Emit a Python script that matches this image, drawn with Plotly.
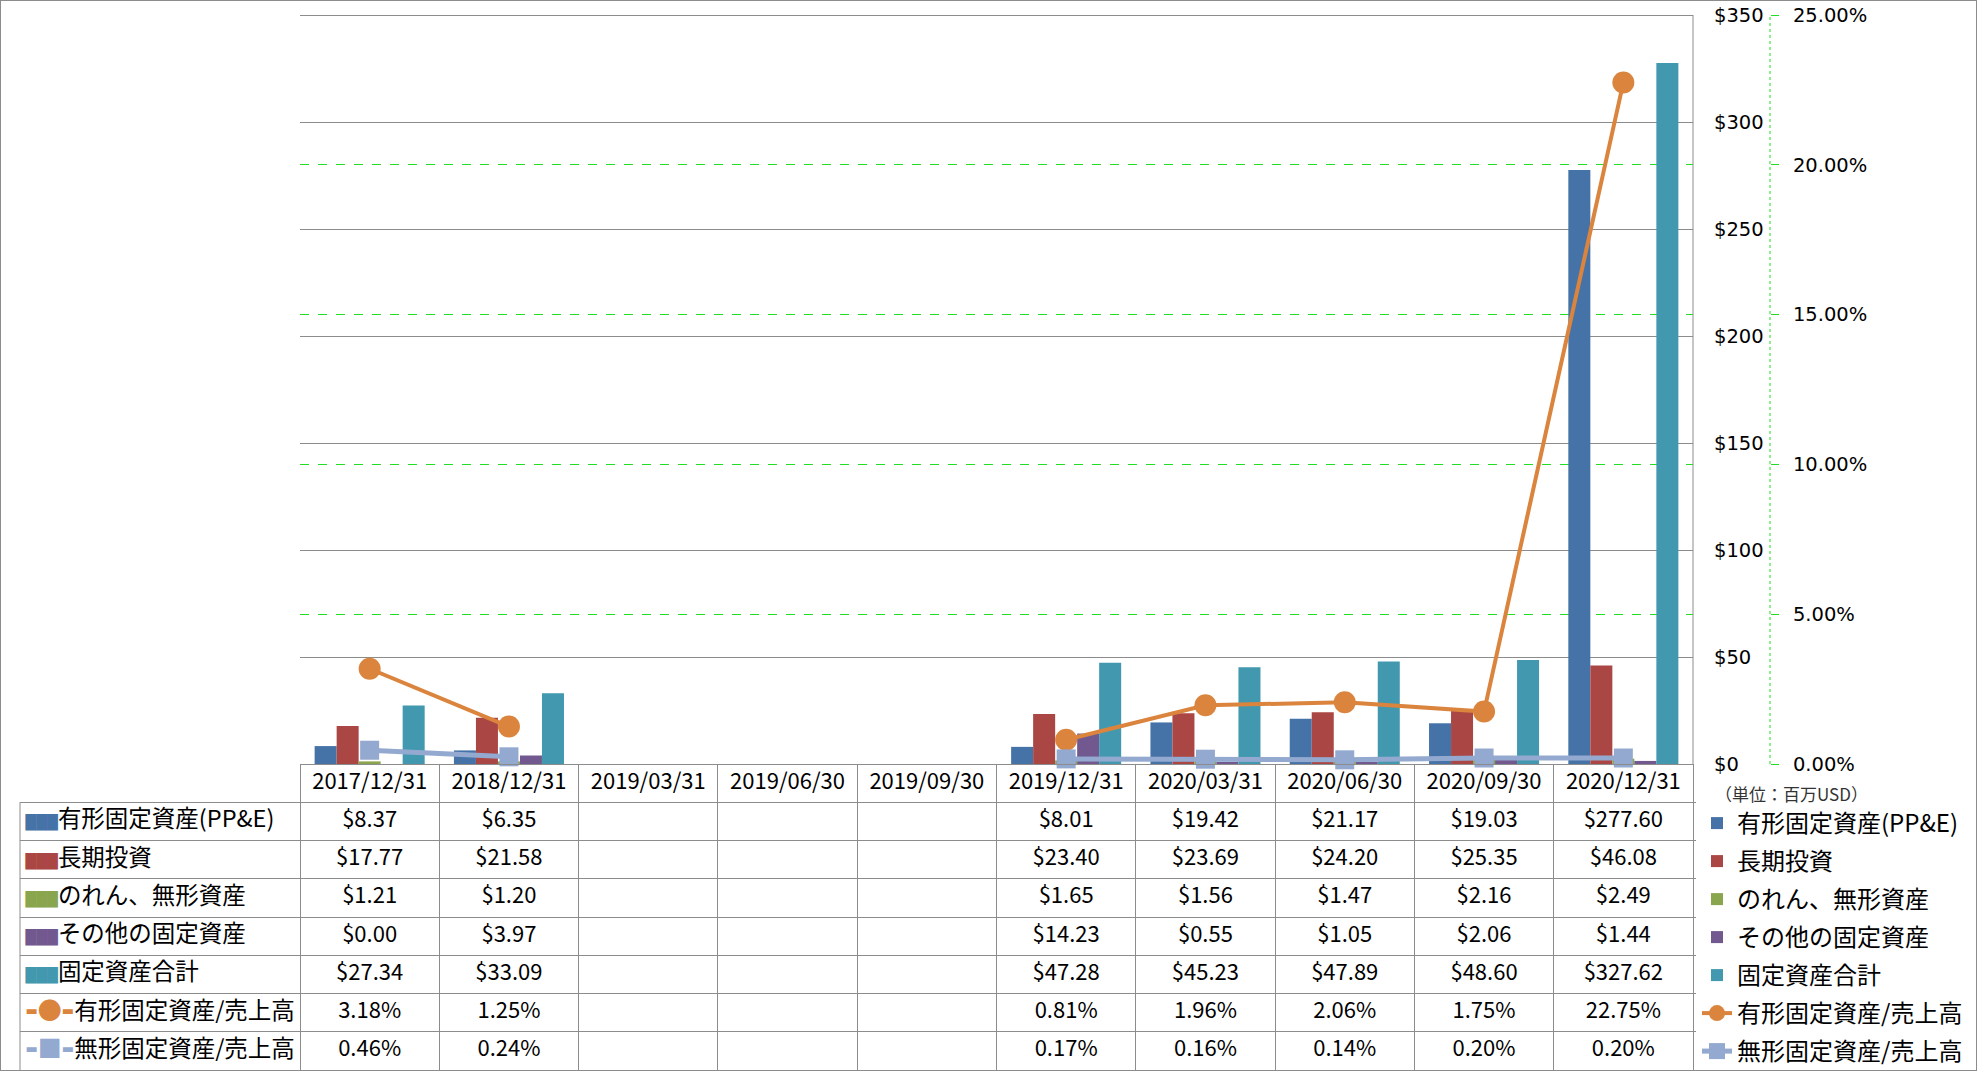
import plotly.graph_objects as go

# ---------------- data ----------------
dates = ["2017/12/31", "2018/12/31", "2019/03/31", "2019/06/30", "2019/09/30",
         "2019/12/31", "2020/03/31", "2020/06/30", "2020/09/30", "2020/12/31"]

ppe = [8.37, 6.35, None, None, None, 8.01, 19.42, 21.17, 19.03, 277.60]
long_inv = [17.77, 21.58, None, None, None, 23.40, 23.69, 24.20, 25.35, 46.08]
goodwill = [1.21, 1.20, None, None, None, 1.65, 1.56, 1.47, 2.16, 2.49]
other_fixed = [0.00, 3.97, None, None, None, 14.23, 0.55, 1.05, 2.06, 1.44]
total_fixed = [27.34, 33.09, None, None, None, 47.28, 45.23, 47.89, 48.60, 327.62]
ppe_to_sales = [3.18, 1.25, None, None, None, 0.81, 1.96, 2.06, 1.75, 22.75]
intang_to_sales = [0.46, 0.24, None, None, None, 0.17, 0.16, 0.14, 0.20, 0.20]

bar_names = ["有形固定資産(PP&E)", "長期投資", "のれん、無形資産", "その他の固定資産", "固定資産合計"]
line_names = ["有形固定資産/売上高", "無形固定資産/売上高"]

usd_ticks = [0, 50, 100, 150, 200, 250, 300, 350]
pct_ticks = [0, 5, 10, 15, 20, 25]
pct_grid = [5, 10, 15, 20]
usd_max = 350
pct_max = 25
unit_label = "（単位：百万USD）"

# ---------------- style ----------------
bar_colors = ["#4572A7", "#AA4643", "#89A54E", "#71588F", "#4198AF"]
line_colors = ["#DB843D", "#93A9CF"]
GRID = "#8c8c8c"
GREEN = "#22DD22"
CJK = "Noto Sans CJK JP"
AXF = "DejaVu Sans"

W, H = 1977, 1071
def fx(p):
    return p / W
def fy(p):
    return 1 - p / H

PL, PR, PT, PB = 300, 1693, 15, 764
TL, TB = 20, 1070
EXT = 3  # px of headroom so the end grid lines are not clipped
col_w = (PR - PL) / len(dates)
x2_min = -0.5 - (PL - TL) / col_w
x2_max = len(dates) - 0.5 + EXT / col_w
px_per_usd = (PB - PT) / usd_max
y_top = usd_max + EXT / px_per_usd
y2_top = pct_max * y_top / usd_max

fig = go.Figure()

bar_series = [ppe, long_inv, goodwill, other_fixed, total_fixed]
for i, (nm, vals) in enumerate(zip(bar_names, bar_series)):
    fig.add_trace(go.Bar(
        x=dates, y=vals, name=nm, marker=dict(color=bar_colors[i], line=dict(width=0)),
        xaxis="x", yaxis="y", legendgroup=f"g{i}", hoverinfo="skip"))

line_series = [ppe_to_sales, intang_to_sales]
symbols = ["circle", "square"]
msizes = [22, 19]
lwidths = [4, 5]
for j, (nm, vals) in enumerate(zip(line_names, line_series)):
    fig.add_trace(go.Scatter(
        x=dates, y=vals, name=nm, mode="lines+markers", connectgaps=False,
        line=dict(color=line_colors[j], width=lwidths[j]),
        marker=dict(symbol=symbols[j], size=msizes[j], color=line_colors[j]),
        xaxis="x", yaxis="y2", cliponaxis=False, legendgroup=f"l{j}", hoverinfo="skip"))

# ---------------- data table (text traces on their own subplot) ----------------
idx = list(range(len(dates)))
fig.add_trace(go.Scatter(
    x=idx, y=[0] * len(dates), text=dates, mode="text", textposition="middle center",
    textfont=dict(family=CJK, size=22, color="black"),
    xaxis="x2", yaxis="y3", showlegend=False, hoverinfo="skip"))

def fmt_usd(v):
    return "" if v is None else f"${v:.2f}"
def fmt_pct(v):
    return "" if v is None else f"{v:.2f}%"

rows = [(v, fmt_usd) for v in bar_series] + [(v, fmt_pct) for v in line_series]
for r, (vals, f) in enumerate(rows):
    fig.add_trace(go.Scatter(
        x=idx, y=[r + 1] * len(dates), text=[f(v) for v in vals], mode="text",
        textposition="middle center", textfont=dict(family=CJK, size=22, color="black"),
        xaxis="x2", yaxis="y3", showlegend=False, hoverinfo="skip"))

def bar_key(c):
    return f"<span style='color:{c};font-family:DejaVu Sans;font-size:14px'>███</span>"
def line_key(c, sym):
    seg = (f"<span style='color:{c};font-family:DejaVu Sans;font-size:13px;"
           f"baseline-shift:4px'>▬</span>")
    return seg + f"<span style='color:{c};font-family:{CJK};font-size:24px'>{sym}</span>" + seg

labels = [bar_key(c) + nm for c, nm in zip(bar_colors, bar_names)]
labels += [line_key(line_colors[0], "●") + line_names[0], line_key(line_colors[1], "■") + line_names[1]]
fig.add_trace(go.Scatter(
    x=[x2_min + 0.04] * len(labels), y=list(range(1, len(labels) + 1)), text=labels,
    mode="text", textposition="middle right", textfont=dict(family=CJK, size=23.5, color="black"),
    xaxis="x2", yaxis="y3", showlegend=False, hoverinfo="skip"))

# ---------------- layout ----------------
fig.update_layout(
    width=W, height=H, margin=dict(l=0, r=0, t=0, b=0, autoexpand=False),
    paper_bgcolor="white", plot_bgcolor="rgba(0,0,0,0)",
    barmode="group", bargap=0.21, bargroupgap=0,
    hovermode=False,
    xaxis=dict(domain=[fx(PL), fx(PR)], type="category", categoryorder="array",
               categoryarray=dates, range=[-0.5, len(dates) - 0.5],
               showticklabels=False, showgrid=False, zeroline=False,
               showline=True, linecolor=GRID, linewidth=1, anchor="y", fixedrange=True),
    yaxis=dict(domain=[fy(PB), fy(PT - EXT)], range=[0, y_top], tickvals=usd_ticks,
               ticktext=[f"${v}" for v in usd_ticks],
               side="right", anchor="free", position=fx(1713), showline=False, ticks="",
               showgrid=True, gridcolor=GRID, gridwidth=1, zeroline=False,
               tickfont=dict(family=AXF, size=19.5, color="black"), fixedrange=True),
    yaxis2=dict(domain=[fy(PB), fy(PT - EXT)], range=[0, y2_top], overlaying="y",
                side="right", anchor="free", position=fx(1770),
                tickvals=pct_ticks, ticktext=[f"{v:.2f}%" for v in pct_ticks],
                ticks="outside", ticklen=8, tickcolor=GREEN, tickwidth=1,
                ticklabelstandoff=10,
                showgrid=False, zeroline=False, showline=False,
                minor=dict(tickmode="array", tickvals=pct_grid, showgrid=True,
                           gridcolor=GREEN, griddash="dash", gridwidth=1, ticks=""),
                tickfont=dict(family=AXF, size=19.5, color="black"), fixedrange=True),
    xaxis2=dict(domain=[fx(TL), fx(PR + EXT)], range=[x2_min, x2_max], type="linear",
                tickmode="array", tickvals=[i - 0.5 for i in range(len(dates) + 1)],
                showticklabels=False, showgrid=True, gridcolor=GRID, gridwidth=1,
                zeroline=False, showline=False, anchor="y3", fixedrange=True),
    yaxis3=dict(domain=[fy(TB), fy(PB)], range=[7.5, -0.5], tickmode="array",
                tickvals=[r + 0.5 for r in range(8)], showticklabels=False,
                showgrid=True, gridcolor=GRID, gridwidth=1, zeroline=False,
                showline=False, anchor="x2", fixedrange=True),
    legend=dict(x=fx(1697), xanchor="left", y=fy(801), yanchor="top",
                font=dict(family=CJK, size=24, color="black"),
                traceorder="grouped", tracegroupgap=3.8, bgcolor="rgba(0,0,0,0)",
                itemclick=False, itemdoubleclick=False),
    annotations=[dict(text=unit_label, x=fx(1713), y=fy(793), xref="paper", yref="paper",
                      xanchor="left", yanchor="middle", showarrow=False,
                      font=dict(family=CJK, size=17, color="#333333"))],
    shapes=[
        dict(type="rect", xref="paper", yref="paper", x0=0, x1=1, y0=0, y1=1,
             line=dict(color=GRID, width=2), layer="above"),
        dict(type="line", xref="x domain", yref="y", x0=1, x1=1, y0=0, y1=usd_max,
             line=dict(color=GRID, width=1)),
        dict(type="line", xref="paper", yref="y2", x0=fx(1770), x1=fx(1770), y0=0, y1=pct_max,
             line=dict(color=GREEN, width=1, dash="dot")),
        dict(type="line", xref="x2 domain", yref="y3", x0=0, x1=0, y0=0.5, y1=7.5,
             line=dict(color=GRID, width=1)),
    ],
)

fig.write_html("out.html", config={"displayModeBar": False})
